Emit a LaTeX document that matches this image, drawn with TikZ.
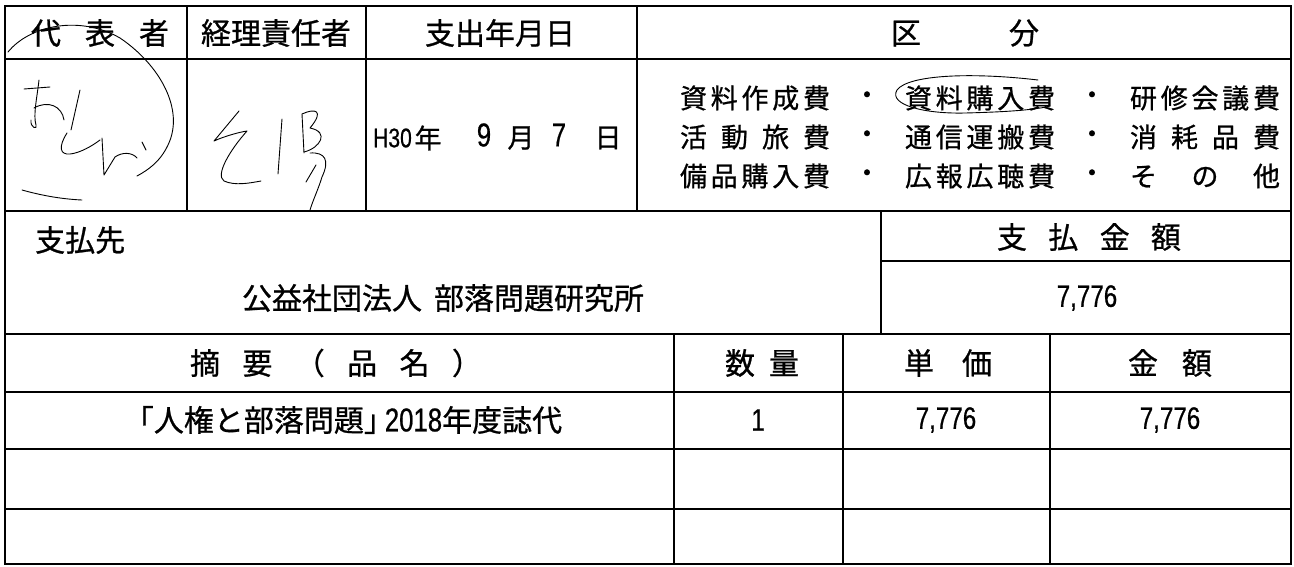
\documentclass[tikz,border=0pt]{standalone}
\usepackage{fontspec}
\setmainfont{Noto Sans CJK JP}[RawFeature={embolden=0.8}]
\newfontfamily\numfont[FakeStretch=0.78,RawFeature={embolden=0.6}]{Liberation Sans}

\begin{document}
\begin{tikzpicture}[x=1pt, y=-1pt,
    cell/.style={anchor=center, inner sep=0pt, font=\fontsize{30}{32}\selectfont},
    item/.style={anchor=center, inner sep=0pt, font=\fontsize{27}{29}\selectfont},
    num/.style={anchor=center, inner sep=0pt, font=\numfont\fontsize{31}{33}\selectfont},
    rule/.style={line width=1.8pt},
    pen/.style={line width=0.9pt, line cap=round, line join=round}]
  \useasboundingbox[fill=white] (0,0) rectangle (1294,566);

  % table rules
  \draw[rule] (5,6) rectangle (1291,564);
  \draw[rule] (5,59) -- (1291,59);
  \draw[rule] (5,211) -- (1291,211);
  \draw[rule] (881,261) -- (1291,261);
  \draw[rule] (5,334) -- (1291,334);
  \draw[rule] (5,392) -- (1291,392);
  \draw[rule] (5,449) -- (1291,449);
  \draw[rule] (5,509) -- (1291,509);
  \foreach \x in {187,366,637} \draw[rule] (\x,6) -- (\x,211);
  \draw[rule] (881,211) -- (881,334);
  \foreach \x in {674,843,1050} \draw[rule] (\x,334) -- (\x,564);

  % header row
  \node[cell] (daihyo) at (100,33) {\makebox[138pt]{代\hfill 表\hfill 者}};
  \node[cell] (keiri) at (276,33) {経理責任者};
  \node[cell] (shishutsu) at (500,33) {支出年月日};
  \node[cell] (kubun) at (965,33) {\makebox[148pt]{区\hfill 分}};

  % kubun list
  \node[item] (ka) at (755,98) {\makebox[150pt]{資\hfill 料\hfill 作\hfill 成\hfill 費}};
  \node[item] (kdota) at (867,98) {・};
  \node[item] (kb) at (980,98) {\makebox[150pt]{資\hfill 料\hfill 購\hfill 入\hfill 費}};
  \node[item] (kdotb) at (1092,98) {・};
  \node[item] (kc) at (1205,98) {\makebox[150pt]{研\hfill 修\hfill 会\hfill 議\hfill 費}};
  \node[item] (kd) at (755,137) {\makebox[150pt]{活\hfill 動\hfill 旅\hfill 費}};
  \node[item] (kdotc) at (867,137) {・};
  \node[item] (ke) at (980,137) {\makebox[150pt]{通\hfill 信\hfill 運\hfill 搬\hfill 費}};
  \node[item] (kdotd) at (1092,137) {・};
  \node[item] (kf) at (1205,137) {\makebox[150pt]{消\hfill 耗\hfill 品\hfill 費}};
  \node[item] (kg) at (755,176) {\makebox[150pt]{備\hfill 品\hfill 購\hfill 入\hfill 費}};
  \node[item] (kdote) at (867,176) {・};
  \node[item] (kh) at (980,176) {\makebox[150pt]{広\hfill 報\hfill 広\hfill 聴\hfill 費}};
  \node[item] (kdotf) at (1092,176) {・};
  \node[item] (ki) at (1205,176) {\makebox[150pt]{そ\hfill の\hfill 他}};
  % ring round the chosen entry
  \draw[pen] (1038,80) .. controls (970,72) and (908,75) .. (897,90)
    .. controls (888,105) and (925,114) .. (965,113)
    .. controls (1005,112) and (1035,110) .. (1050,106);

  % date
  \node[num, anchor=west, font=\numfont\fontsize{27}{29}\selectfont] (era) at (373,138) {H30};
  \node[item] (nen) at (428,138) {年};
  \node[num, font=\numfont\fontsize{33}{34}\selectfont] (month) at (484,135) {9};
  \node[item] (tsuki) at (521,138) {月};
  \node[num, font=\numfont\fontsize{33}{34}\selectfont] (day) at (559,135) {7};
  \node[item] (hi) at (608,138) {日};

  % signatures
  \draw[pen] (8,52) .. controls (30,25) and (80,15) .. (120,38)
    .. controls (160,65) and (185,110) .. (168,145)
    .. controls (160,162) and (148,170) .. (137,176);
  \draw[pen] (24,89) -- (50,87);
  \draw[pen] (39,80) .. controls (37,98) and (33,115) .. (36,125)
    .. controls (38,130) and (30,128) .. (31,120);
  \draw[pen] (34,108) .. controls (48,100) and (62,106) .. (64,120);
  \draw[pen] (80,90) -- (71,130);
  \draw[pen] (67,133) .. controls (58,147) and (60,155) .. (70,154)
    .. controls (80,153) and (92,146) .. (100,140);
  \draw[pen] (102,138) -- (104,175) -- (115,157) .. controls (122,152) and (132,152) .. (137,158);
  \draw[pen] (142,142) -- (146,150);
  \draw[pen] (22,190) .. controls (40,195) and (60,199) .. (82,200);
  \draw[pen] (239,111) -- (214,141) .. controls (225,136) and (240,132) .. (247,131)
    .. controls (230,150) and (215,175) .. (224,181)
    .. controls (235,186) and (250,183) .. (261,181);
  \draw[pen] (282,119) -- (278,174);
  \draw[pen] (302,114) -- (304,153);
  \draw[pen] (302,114) .. controls (315,108) and (325,110) .. (310,128)
    .. controls (330,132) and (320,148) .. (304,152);
  \draw[pen] (310,153) .. controls (325,152) and (330,160) .. (322,177)
    .. controls (318,190) and (313,200) .. (310,210);
  \draw[pen] (316,165) -- (306,182);

  % payee block
  \node[cell, anchor=west] (shiharaisaki) at (35,240) {支払先};
  \node[cell] (payee) at (443,298) {公益社団法人\hspace{12pt}部落問題研究所};
  \node[cell] (kingaku) at (1089,237) {\makebox[184pt]{支\hfill 払\hfill 金\hfill 額}};
  \node[num] (total) at (1087,298) {7,776};

  % item table
  \node[cell] (tekiyo) at (336,363) {\makebox[292pt]{摘\hfill 要\hfill （\hfill 品\hfill 名\hfill ）}};
  \node[cell] (suryo) at (762,363) {\makebox[74pt]{数\hfill 量}};
  \node[cell] (tanka) at (948,363) {\makebox[88pt]{単\hfill 価}};
  \node[cell] (kingakucol) at (1170,363) {\makebox[84pt]{金\hfill 額}};
  \node[cell] (hinmei) at (343,420) {「人権と部落問題」\kern-0.3em{\numfont\fontsize{33}{34}\selectfont 2018}年度誌代};
  \node[num] (qty) at (758,420) {1};
  \node[num] (price) at (946,420) {7,776};
  \node[num] (amount) at (1170,420) {7,776};
\end{tikzpicture}
\end{document}
